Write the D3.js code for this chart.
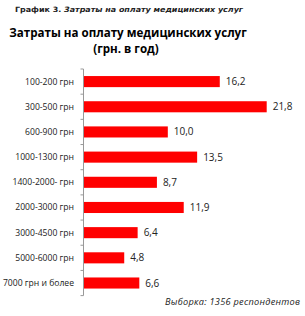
<!DOCTYPE html>
<html><head><meta charset="utf-8">
<script src="https://cdn.jsdelivr.net/npm/d3@7"></script>
<style>body{margin:0;background:#fff}svg{display:block}</style>
</head><body>
<svg id="c" width="305" height="316"></svg>
<script>
const categories = ["100-200 грн","300-500 грн","600-900 грн","1000-1300 грн","1400-2000- грн","2000-3000 грн","3000-4500 грн","5000-6000 грн","7000 грн и более"];
const values = [16.2,21.8,10.0,13.5,8.7,11.9,6.4,4.8,6.6];

const svg = d3.select("#c");
const font = "'Open Sans', sans-serif";

const x = d3.scaleLinear().domain([0, 21.8]).range([84, 266.7]);
const y = d3.scaleBand().domain(categories).range([69, 295.6]).paddingInner(0.56).paddingOuter(0.28);

// header
const h = svg.append("text").attr("x", 15).attr("y", 12.3).attr("font-family", "'DejaVu Sans', sans-serif").attr("font-size", 7.3).attr("fill", "#222").attr("font-weight", "bold")
  .attr("textLength", 228).attr("lengthAdjust", "spacingAndGlyphs");
h.append("tspan").text("График 3. ");
h.append("tspan").attr("font-style", "italic").text("Затраты на оплату медицинских услуг");

// title
svg.append("text").attr("x", 128).attr("y", 36.5).attr("text-anchor", "middle").attr("font-family", font).attr("font-weight", "bold").attr("font-size", 11.6).attr("fill", "#000").text("Затраты на оплату медицинских услуг");
svg.append("text").attr("x", 126).attr("y", 53).attr("text-anchor", "middle").attr("font-family", font).attr("font-weight", "bold").attr("font-size", 11.6).attr("fill", "#000").text("(грн. в год)");

// bars
svg.selectAll("rect.bar").data(values).join("rect").attr("class", "bar")
  .attr("x", x(0)).attr("y", (d, i) => y(categories[i]))
  .attr("width", d => x(d) - x(0)).attr("height", y.bandwidth())
  .attr("fill", "#ff0000");

// value labels
svg.selectAll("text.val").data(values).join("text").attr("class", "val")
  .attr("x", d => x(d) + 6).attr("y", (d, i) => y(categories[i]) + y.bandwidth() / 2)
  .attr("dy", "0.35em").attr("font-family", font).attr("font-size", 10).attr("fill", "#222")
  .text(d => d3.format(".1f")(d).replace(".", ","));

// axis
const axisG = svg.append("g");
axisG.append("line").attr("x1", 83.5).attr("x2", 83.5).attr("y1", 69).attr("y2", 295.6).attr("stroke", "#999").attr("stroke-width", 1);
const bounds = d3.range(categories.length + 1).map(i => 69 + i * (295.6 - 69) / categories.length);
axisG.selectAll("line.tk").data(bounds).join("line").attr("class", "tk")
  .attr("x1", 80.5).attr("x2", 83.5).attr("y1", d => d).attr("y2", d => d).attr("stroke", "#999");
axisG.selectAll("text.cat").data(categories).join("text").attr("class", "cat")
  .attr("x", 74).attr("y", d => y(d) + y.bandwidth() / 2).attr("dy", "0.35em")
  .attr("text-anchor", "end").attr("font-family", font).attr("font-size", 8.6).attr("fill", "#222").text(d => d);

// footer
svg.append("text").attr("x", 165).attr("y", 304.5).attr("font-family", font).attr("font-style", "italic").attr("font-size", 9.2).attr("fill", "#222")
  .attr("textLength", 135).attr("lengthAdjust", "spacing").text("Выборка: 1356  респондентов");
</script>
</body></html>
